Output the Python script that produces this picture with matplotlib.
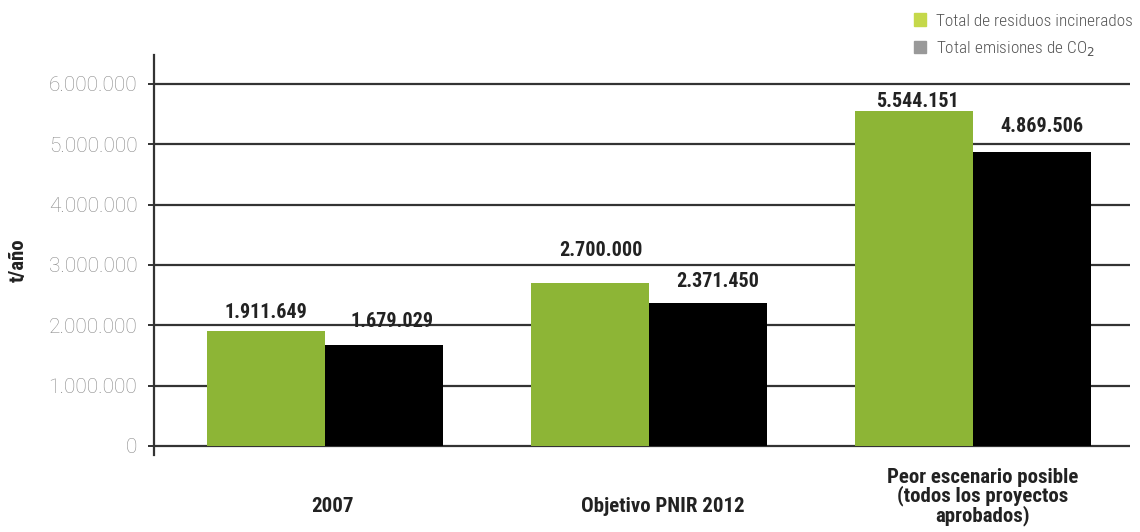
import numpy as np
import matplotlib.pyplot as plt
from matplotlib import font_manager
from matplotlib.patches import Patch

# datos
categorias = ['2007', 'Objetivo PNIR 2012',
              'Peor escenario posible\n(todos los proyectos\naprobados)']
residuos = [1911649, 2700000, 5544151]
emisiones = [1679029, 2371450, 4869506]
ticks_y = [0, 1000000, 2000000, 3000000, 4000000, 5000000, 6000000]
etiquetas_y = ['0', '1.000.000', '2.000.000', '3.000.000',
               '4.000.000', '5.000.000', '6.000.000']
leyenda = ['Total de residuos incinerados', 'Total emisiones de CO$_2$']

# fuentes disponibles
nombres = {f.name for f in font_manager.fontManager.ttflist}
def elegir(lista):
    for n in lista:
        if n in nombres:
            return n
    return 'DejaVu Sans'

estrecha = elegir(['Roboto Condensed', 'Liberation Sans Narrow', 'DejaVu Sans'])
fina = elegir(['Roboto', 'Lato', 'Open Sans', 'DejaVu Sans'])

fig = plt.figure(figsize=(11.4, 5.32), dpi=100)
ax = fig.add_axes([154/1140, 77/532, 976/1140, 400/532])

x = np.arange(len(categorias))
ancho = 0.365
b1 = ax.bar(x - ancho/2, residuos, ancho, color='#8db536', zorder=3)
b2 = ax.bar(x + ancho/2, emisiones, ancho, color='#000000', zorder=3)

ax.set_xlim(-0.528, 2.485)
ax.set_ylim(-150000, 6480000)

for t in ticks_y:
    ax.axhline(t, color='#333333', lw=1.6, zorder=1)

ax.set_yticks(ticks_y)
ax.set_yticklabels(etiquetas_y, color='#8a8a8a', fontsize=15,
                   family=fina, fontweight='light')
ax.tick_params(axis='y', direction='out', length=4, width=1.4,
               color='#333333', pad=8)
ax.set_xticks([])
for s in ['top', 'right', 'bottom']:
    ax.spines[s].set_visible(False)
ax.spines['left'].set_color('#333333')
ax.spines['left'].set_linewidth(1.6)

# etiquetas de valores (desplazamientos en píxeles)
desp = [(0, 18), (8, 23), (11, 33), (10, 21), (4, 10), (10, 26)]
k = 0
for i in range(len(categorias)):
    for barra, v in [(b1[i], residuos[i]), (b2[i], emisiones[i])]:
        cx = barra.get_x() + barra.get_width()/2
        dx, dy = desp[k]
        ax.annotate(f'{v:,}'.replace(',', '.'), (cx, v),
                    xytext=(dx, dy), textcoords='offset pixels',
                    ha='center', va='center', fontsize=14.5,
                    fontweight='bold', family=estrecha, color='#222222')
        k += 1

# etiquetas de categorías
desp_cat = [(7, -52), (14, -52), (10, -42)]
for i, c in enumerate(categorias):
    dx, dy = desp_cat[i]
    ax.annotate(c, (i, 0), xycoords=ax.get_xaxis_transform(),
                xytext=(dx, dy), textcoords='offset pixels',
                ha='center', va='center', fontsize=15, fontweight='bold',
                family=estrecha, color='#222222', linespacing=0.92)

fig.text(18/1140, 1 - 260/532, 't/año', rotation=90, ha='center',
         va='center', fontsize=15, fontweight='bold', family=estrecha,
         color='#222222')

manijas = [Patch(color='#c5d84a'), Patch(color='#999999')]
fig.legend(manijas, leyenda, loc='upper left',
           bbox_to_anchor=(898/1140, 1 + 2/532), frameon=False,
           handlelength=0.7, handleheight=0.7, handletextpad=0.6,
           labelspacing=0.6, prop={'family': estrecha, 'size': 12.4,
                                   'weight': 'light'},
           labelcolor='#555555')

fig.savefig('out.png', dpi=100)
